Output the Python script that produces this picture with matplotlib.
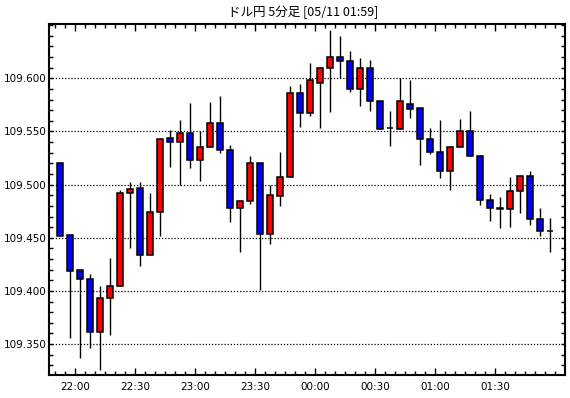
import numpy as np
import matplotlib
matplotlib.use("Agg")
import matplotlib.pyplot as plt
from matplotlib.ticker import FixedLocator, MultipleLocator, FormatStrFormatter

# ドル円 5分足 (21:50 - 01:55)
opens = [109.520, 109.453, 109.420, 109.411, 109.361, 109.393, 109.405, 109.492, 109.497, 109.434,
         109.474, 109.544, 109.540, 109.549, 109.523, 109.535, 109.558, 109.533, 109.478, 109.485,
         109.520, 109.454, 109.489, 109.507, 109.586, 109.567, 109.596, 109.610, 109.620, 109.616,
         109.590, 109.610, 109.579, 109.553, 109.552, 109.576, 109.572, 109.543, 109.531, 109.513,
         109.535, 109.550, 109.527, 109.486, 109.478, 109.477, 109.494, 109.508, 109.468, 109.456]
highs = [109.521, 109.453, 109.420, 109.416, 109.405, 109.431, 109.495, 109.502, 109.502, 109.492,
         109.544, 109.551, 109.561, 109.577, 109.550, 109.578, 109.583, 109.537, 109.486, 109.527,
         109.520, 109.500, 109.531, 109.593, 109.595, 109.614, 109.611, 109.645, 109.640, 109.626,
         109.619, 109.617, 109.579, 109.569, 109.600, 109.598, 109.572, 109.553, 109.561, 109.536,
         109.562, 109.569, 109.528, 109.491, 109.488, 109.507, 109.509, 109.513, 109.478, 109.469]
lows = [109.452, 109.356, 109.337, 109.346, 109.326, 109.359, 109.405, 109.440, 109.423, 109.434,
        109.452, 109.517, 109.500, 109.516, 109.503, 109.535, 109.530, 109.465, 109.437, 109.482,
        109.401, 109.444, 109.480, 109.507, 109.554, 109.565, 109.553, 109.568, 109.600, 109.587,
        109.574, 109.569, 109.552, 109.536, 109.552, 109.563, 109.518, 109.529, 109.506, 109.495,
        109.535, 109.527, 109.481, 109.466, 109.459, 109.460, 109.473, 109.462, 109.452, 109.437]
closes = [109.452, 109.419, 109.411, 109.361, 109.393, 109.405, 109.492, 109.496, 109.434, 109.474,
          109.543, 109.540, 109.549, 109.523, 109.535, 109.558, 109.533, 109.478, 109.485, 109.520,
          109.454, 109.490, 109.507, 109.586, 109.567, 109.598, 109.610, 109.620, 109.616, 109.590,
          109.610, 109.579, 109.552, 109.553, 109.579, 109.571, 109.543, 109.531, 109.513, 109.535,
          109.550, 109.527, 109.486, 109.478, 109.477, 109.494, 109.508, 109.468, 109.456, 109.456]

time_labels = ["22:00", "22:30", "23:00", "23:30", "00:00", "00:30", "01:00", "01:30"]
label_pos = [1.5, 7.5, 13.5, 19.5, 25.5, 31.5, 37.5, 43.5]
price_ticks = [109.35, 109.40, 109.45, 109.50, 109.55, 109.60]

o = np.array(opens)
h = np.array(highs)
l = np.array(lows)
c = np.array(closes)
x = np.arange(len(o))

fig = plt.figure(figsize=(5.7, 3.98), dpi=100)
ax = fig.add_axes([0.086, 0.058, 0.905, 0.882])

# ヒゲ
ax.vlines(x, l, h, color="k", linewidth=1, zorder=2)

# 実体 (陽線=赤, 陰線=青)
colores = np.where(c > o, "#ff0000", np.where(c < o, "#0000ff", "k"))
ax.bar(x, np.abs(c - o), bottom=np.minimum(o, c), width=0.62, color=colores,
       edgecolor="k", linewidth=1.1, zorder=3)

ax.set_xlim(-1.1, 50.5)
ax.set_ylim(109.321, 109.6512)

ax.yaxis.set_major_locator(FixedLocator(price_ticks))
ax.yaxis.set_minor_locator(MultipleLocator(0.01))
ax.yaxis.set_major_formatter(FormatStrFormatter("%.3f"))
ax.xaxis.set_major_locator(FixedLocator(label_pos))
ax.xaxis.set_minor_locator(FixedLocator(np.arange(-0.5, 50.5, 1.0)))
ax.set_xticklabels(time_labels)

ax.yaxis.grid(True, which="major", color="k", linestyle=(0, (1, 1.5)), linewidth=0.9)
ax.set_axisbelow(True)

ax.tick_params(which="both", direction="in", top=True, right=True, width=1,
               labelsize=7.5, colors="k")
ax.tick_params(axis="x", which="major", length=5, pad=5)
ax.tick_params(axis="x", which="minor", length=3)
ax.tick_params(axis="y", which="both", length=3, pad=2)
for s in ax.spines.values():
    s.set_linewidth(1.5)

fig.text(0.532, 0.970, "ドル円 5分足 [05/11 01:59]", ha="center", va="center",
         fontsize=9, family=["Noto Sans CJK JP", "DejaVu Sans"])

fig.savefig("out.png", dpi=100)
